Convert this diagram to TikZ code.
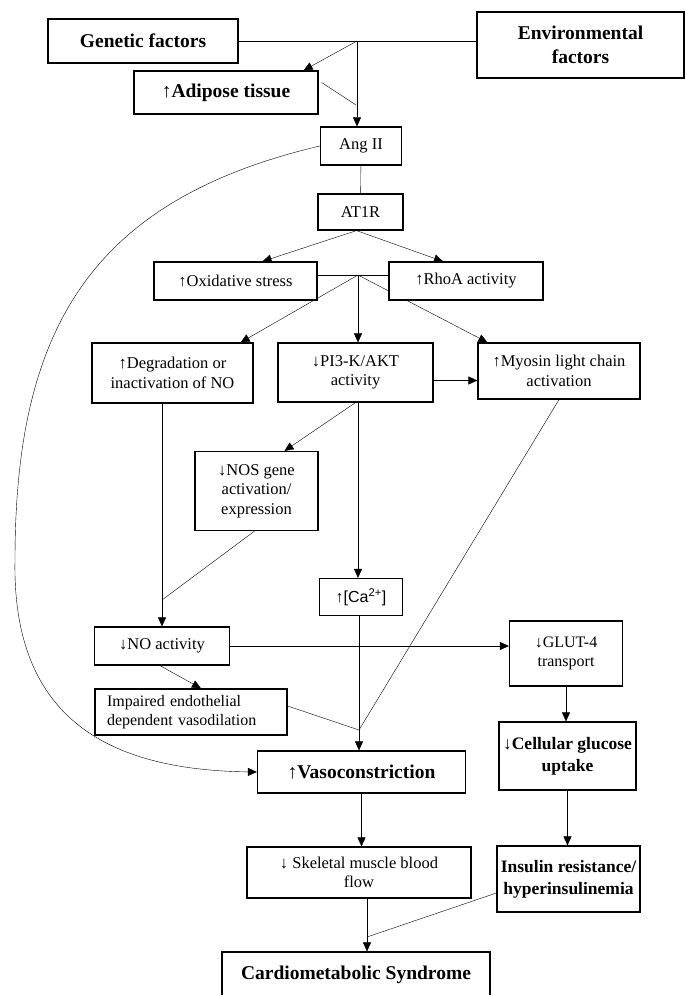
\documentclass[tikz,border=0pt]{standalone}
\usepackage{fontspec}
\setmainfont{Liberation Serif}
\newfontfamily\casans{Liberation Sans}
\usetikzlibrary{arrows.meta,backgrounds}

\begin{document}
\begin{tikzpicture}[x=1pt, y=-1pt, line width=1.2pt, >={Triangle[length=9pt,width=8pt]},
  box/.style={draw, fill=white, align=center, inner sep=0pt, font=\fontsize{16.5}{19.5}\selectfont},
  bbox/.style={box, font=\fontsize{19.5}{23.5}\selectfont\bfseries},
  sbox/.style={box, font=\fontsize{17.5}{22}\selectfont\bfseries}]
\useasboundingbox (0,0) rectangle (685,995);

\node[bbox, minimum width=190, minimum height=44] (gen) at (143,41) {Genetic factors};
\node[bbox, minimum width=207, minimum height=66] (env) at (580.5,45) {Environmental\\factors};
\node[bbox, minimum width=184, minimum height=43] (adi) at (226,92.5) {↑Adipose tissue};
\node[box, minimum width=81, minimum height=38] (ang) at (361,146) {Ang II};
\node[box, minimum width=85, minimum height=36] (at1) at (360.5,212) {AT1R};
\node[box, minimum width=163, minimum height=38] (oxi) at (235.5,281) {↑Oxidative stress};
\node[box, minimum width=154, minimum height=38] (rho) at (466,281) {↑RhoA activity};
\node[box, minimum width=161, minimum height=60] (deg) at (172.5,373) {↑Degradation or\\inactivation of NO};
\node[box, minimum width=155, minimum height=59] (pi3) at (355.5,372.5) {↓PI3-K/AKT\\activity};
\node[box, minimum width=162, minimum height=56] (myo) at (559,371) {↑Myosin light chain\\activation};
\node[box, minimum width=123, minimum height=79] (nos) at (256.5,491) {↓NOS gene\\activation/\\expression};
\node[box, minimum width=83, minimum height=37, font=\casans\fontsize{16}{19}\selectfont] (ca) at (361,597) {↑[Ca\textsuperscript{2+}]};
\node[box, minimum width=135, minimum height=38] (noa) at (162,646) {↓NO activity};
\node[box, minimum width=192, minimum height=46, align=left, text width=168, font=\fontsize{16}{19}\selectfont] (imp) at (191,712) {Impaired endothelial\\dependent vasodilation};
\node[box, minimum width=113, minimum height=65, font=\fontsize{16}{19}\selectfont] (glu) at (566,653.5) {↓GLUT-4\\transport};
\node[bbox, minimum width=208, minimum height=42] (vas) at (361.5,772) {↑Vasoconstriction};
\node[sbox, minimum width=137, minimum height=68] (cel) at (567.5,756) {↓Cellular glucose\\uptake};
\node[box, minimum width=224, minimum height=51] (ske) at (359,872.5) {↓ Skeletal muscle blood\\flow};
\node[sbox, minimum width=143, minimum height=66] (ins) at (568.5,879) {Insulin resistance/\\hyperinsulinemia};
\node[bbox, minimum width=268, minimum height=45] (car) at (356,974.5) {Cardiometabolic Syndrome};

\coordinate (j1) at (357,41);
\coordinate (a1) at (356,105);
\coordinate (j2) at (358,275);
\coordinate (j3) at (162,600);
\coordinate (j4) at (359,730);
\coordinate (j5) at (367,937);

\begin{pgfonlayer}{background}
\draw (gen.east) -- (gen.east -| env.west);
\draw[->] (j1) -- ([xshift=-15pt]adi.north east);
\draw[->] (j1) -- (j1 |- ang.north);
\draw ([xshift=3pt,yshift=10pt]adi.east) -- (a1);
\draw (ang) -- (at1);
\draw[->] ([xshift=-4pt]at1.south) -- ([xshift=27pt]oxi.north);
\draw[->] ([xshift=-4pt]at1.south) -- ([xshift=-23pt]rho.north);
\draw (oxi.east |- j2) -- (rho.west |- j2);
\draw[->] (j2) -- ([xshift=-13pt]deg.north east);
\draw[->] (j2) -- (j2 |- pi3.north);
\draw[->] (j2) -- ([xshift=10pt]myo.north west);
\draw[->] ([yshift=-8pt]pi3.east) -- ([yshift=-8pt]pi3.east -| myo.west);
\draw[->] (pi3.south) -- ([xshift=28pt]nos.north);
\draw[->] ([xshift=2.5pt]pi3.south) -- ([xshift=2.5pt]pi3.south |- ca.north);
\draw[->] (deg.south -| noa.north) -- (noa.north);
\draw ([xshift=-2pt]nos.south) -- (j3);
\draw[->] ([xshift=-2pt]noa.south) -- ([xshift=10pt]imp.north);
\draw[->] (noa.east) -- (noa.east -| glu.west);
\draw ([yshift=6pt]imp.east) -- (j4);
\draw (myo.south) -- (j4);
\draw (ca.south -| j4) -- (j4);
\draw[->] (j4) -- (j4 |- vas.north);
\draw[->] (ang.west) .. controls (90,200) and (15,330) .. (15,560) .. controls (12,720) and (110,770) .. (vas.west);
\draw[->] (glu.south) -- (glu.south |- cel.north);
\draw[->] (cel.south) -- (cel.south |- ins.north);
\draw[->] (vas.south) -- (vas.south |- ske.north);
\draw (ske.south -| j5) -- (j5);
\draw ([yshift=-14pt]ins.west) -- (j5);
\draw[->] (j5) -- (j5 |- car.north);
\end{pgfonlayer}
\end{tikzpicture}
\end{document}
